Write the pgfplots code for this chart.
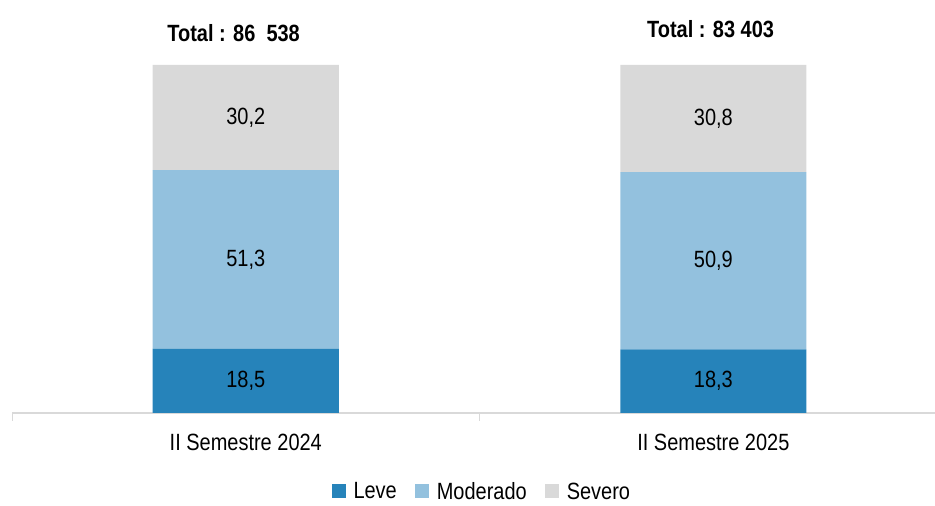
\documentclass[border=0pt]{standalone}
\usepackage{fontspec}
\setmainfont{Liberation Sans}[FakeStretch=0.85]
\usepackage{pgfplots}
\pgfplotsset{compat=1.18}
\definecolor{leve}{HTML}{2683BA}
\definecolor{moderado}{HTML}{93C1DE}
\definecolor{severo}{HTML}{D9D9D9}
\newcommand\chartfont{\fontsize{23.5}{26}\selectfont}
\tikzset{seglabel/.style={font=\chartfont}}
\begin{document}
\begin{tikzpicture}[x=1pt,y=1pt]
\useasboundingbox (0,0) rectangle (935,506);
\begin{axis}[
  at={(12pt,93pt)}, anchor=south west,
  scale only axis, width=923pt, height=348pt,
  xmin=-0.5, xmax=1.474, ymin=0, ymax=100,
  ybar stacked, bar width=0.398,
  axis x line*=bottom, axis y line=none,
  axis line style={draw=severo, line width=1.6pt},
  xtick={0,1}, xticklabels={II Semestre 2024, II Semestre 2025},
  major tick length=0pt,
  extra x ticks={-0.5,0.5}, extra x tick labels={},
  extra x tick style={major tick length=8pt, tick align=outside,
    tick style={draw=severo, line width=1pt}},
  xticklabel style={font=\chartfont, yshift=-18pt},
  clip=false,
  legend style={draw=none, at={(0.509,-0.226)}, anchor=center,
    legend columns=3, font=\chartfont,
    /tikz/every even column/.append style={column sep=16pt},
    /tikz/every odd column/.append style={column sep=6pt}},
  legend image code/.code={\fill[#1] (0pt,-6pt) rectangle (14pt,8pt);},
]
\addplot[fill=leve, draw=none] coordinates {(0,18.5) (1,18.3)};
\addplot[fill=moderado, draw=none] coordinates {(0,51.3) (1,50.9)};
\addplot[fill=severo, draw=none] coordinates {(0,30.2) (1,30.8)};
\legend{Leve, Moderado, Severo}
% anchor points for the segment values (segment midpoints) and the totals
\coordinate (a1) at (axis cs:0,9.25);
\coordinate (a2) at (axis cs:0,44.15);
\coordinate (a3) at (axis cs:0,84.9);
\coordinate (b1) at (axis cs:1,9.15);
\coordinate (b2) at (axis cs:1,43.75);
\coordinate (b3) at (axis cs:1,84.6);
\coordinate (ta) at (axis cs:-0.026,109.2);
\coordinate (tb) at (axis cs:0.994,110.3);
\end{axis}
\node[seglabel] at (a1) {18,5};
\node[seglabel] at (a2) {51,3};
\node[seglabel] at (a3) {30,2};
\node[seglabel] at (b1) {18,3};
\node[seglabel] at (b2) {50,9};
\node[seglabel] at (b3) {30,8};
\node[font=\bfseries\chartfont] at (ta) {Total : 86\ \ 538};
\node[font=\bfseries\chartfont] at (tb) {Total : 83 403};
\end{tikzpicture}
\end{document}
